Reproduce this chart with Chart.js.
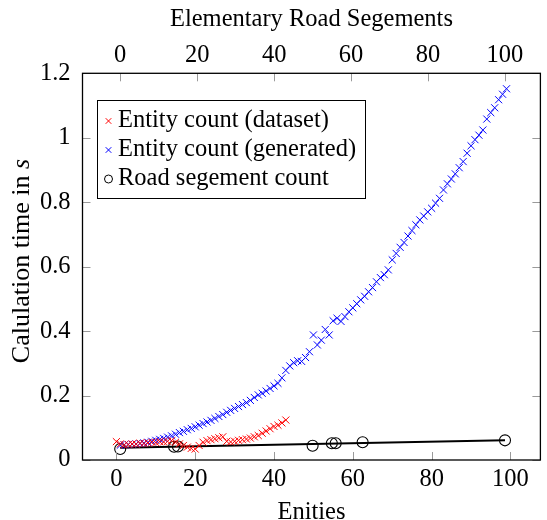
<!DOCTYPE html>
<html><head><meta charset="utf-8">
<script src="https://cdn.jsdelivr.net/npm/chart.js@4.4.1/dist/chart.umd.min.js"></script>
<style>html,body{margin:0;padding:0;background:#fff}#wrap{width:547px;height:520px}</style>
</head><body><div id="wrap"><canvas id="c" width="547" height="520"></canvas></div>
<script>
// ---- data ----
const datasetX = [0,1,2,3,4,5,6,7,8,9,10,11,12,13,14,15,16,17,18,19,20,21,22,23,24,25,26,27,28,29,30,31,32,33,34,35,36,37,38,39,40,41,42,43];
const datasetY = [0.057,0.050,0.047,0.048,0.050,0.049,0.052,0.051,0.053,0.055,0.054,0.057,0.056,0.058,0.060,0.055,0.050,0.045,0.040,0.036,0.034,0.045,0.055,0.060,0.063,0.066,0.069,0.072,0.058,0.056,0.058,0.061,0.063,0.065,0.068,0.072,0.076,0.083,0.090,0.097,0.104,0.108,0.115,0.124];
const generatedX = [1,2,3,4,5,6,7,8,9,10,11,12,13,14,15,16,17,18,19,20,21,22,23,24,25,26,27,28,29,30,31,32,33,34,35,36,37,38,39,40,41,42,43,44,45,46,47,48,49,50,51,52,53,54,55,56,57,58,59,60,61,62,63,64,65,66,67,68,69,70,71,72,73,74,75,76,77,78,79,80,81,82,83,84,85,86,87,88,89,90,91,92,93,94,95,96,97,98,99];
const generatedY = [0.046,0.047,0.048,0.049,0.050,0.051,0.053,0.055,0.058,0.061,0.064,0.067,0.071,0.075,0.080,0.085,0.089,0.094,0.098,0.103,0.108,0.113,0.118,0.123,0.129,0.135,0.141,0.148,0.154,0.160,0.166,0.172,0.178,0.185,0.194,0.202,0.207,0.214,0.222,0.230,0.238,0.255,0.278,0.292,0.302,0.308,0.306,0.318,0.336,0.388,0.357,0.372,0.405,0.388,0.432,0.440,0.430,0.445,0.460,0.472,0.485,0.497,0.508,0.522,0.535,0.553,0.566,0.575,0.590,0.621,0.641,0.660,0.675,0.695,0.712,0.730,0.745,0.757,0.770,0.781,0.797,0.812,0.838,0.857,0.872,0.888,0.907,0.926,0.952,0.975,0.994,1.008,1.024,1.058,1.078,1.093,1.118,1.135,1.152];
const roadX = [0,14,15,50,55,56,63,100];
const roadY = [0.034,0.041,0.042,0.044,0.052,0.052,0.055,0.061];
const fitX = [0,100];
const fitY = [0.038,0.061];
const bottomTicks = [0,20,40,60,80,100];
const topTicks = [0,20,40,60,80,100];
const yTicks = [0,0.2,0.4,0.6,0.8,1,1.2];
const yTickLabels = ['0','0.2','0.4','0.6','0.8','1','1.2'];
const labels = ['Entity count (dataset)','Entity count (generated)','Road segement count'];

const FONT = "'Liberation Serif', 'Times New Roman', serif";
const FS = 24.5;
Chart.defaults.font.family = FONT;
Chart.defaults.font.size = FS;
Chart.defaults.color = '#000';

const pts = (xs, ys) => xs.map((x, i) => ({x, y: ys[i]}));

const decor = {
  id: 'decor',
  afterDatasetsDraw(chart) {
    const {ctx, chartArea: a, scales} = chart;
    ctx.save();
    // inward tick marks
    ctx.strokeStyle = '#9a9a9a'; ctx.lineWidth = 1;
    const L = 8;
    ctx.beginPath();
    scales.x.ticks.forEach(t => { const p = Math.round(scales.x.getPixelForValue(t.value)) + 0.5; ctx.moveTo(p, a.bottom); ctx.lineTo(p, a.bottom - L); });
    scales.x2.ticks.forEach(t => { const p = Math.round(scales.x2.getPixelForValue(t.value)) + 0.5; ctx.moveTo(p, a.top); ctx.lineTo(p, a.top + L); });
    scales.y.ticks.forEach(t => { const p = Math.round(scales.y.getPixelForValue(t.value)) + 0.5; ctx.moveTo(a.left, p); ctx.lineTo(a.left + L, p); ctx.moveTo(a.right, p); ctx.lineTo(a.right - L, p); });
    ctx.stroke();
    // frame
    ctx.strokeStyle = '#000'; ctx.lineWidth = 1.3;
    ctx.strokeRect(a.left, a.top, a.right - a.left, a.bottom - a.top);
    // y title with italic s
    ctx.save();
    const TF = 26;
    ctx.translate(22, 261);
    ctx.rotate(-Math.PI / 2);
    ctx.fillStyle = '#000';
    ctx.textBaseline = 'middle';
    const p1 = 'Calulation time in ', p2 = 's';
    ctx.font = TF + "px " + FONT; const w1 = ctx.measureText(p1).width;
    ctx.font = "italic " + TF + "px " + FONT; const w2 = ctx.measureText(p2).width;
    let sx = -(w1 + w2) / 2;
    ctx.font = TF + "px " + FONT; ctx.textAlign = 'left'; ctx.fillText(p1, sx, 0);
    ctx.font = "italic " + TF + "px " + FONT; ctx.fillText(p2, sx + w1, 0);
    ctx.restore();
    // legend
    const bx = 97.5, by = 100.5, bw = 268, bh = 98;
    ctx.fillStyle = '#fff'; ctx.fillRect(bx, by, bw, bh);
    ctx.strokeStyle = '#000'; ctx.lineWidth = 1; ctx.strokeRect(bx, by, bw, bh);
    const rows = [121, 150, 179];
    const mx = 108.5;
    chart.data.datasets.slice(0, 3).forEach((ds, i) => {
      const y = rows[i];
      ctx.strokeStyle = ds.borderColor; ctx.lineWidth = 1;
      ctx.beginPath();
      if (ds.pointStyle === 'circle') {
        ctx.arc(mx, y, 4, 0, Math.PI * 2);
      } else {
        const d = 2.8;
        ctx.moveTo(mx - d, y - d); ctx.lineTo(mx + d, y + d);
        ctx.moveTo(mx - d, y + d); ctx.lineTo(mx + d, y - d);
      }
      ctx.stroke();
      ctx.fillStyle = '#000'; ctx.font = FS + "px " + FONT;
      ctx.textAlign = 'left'; ctx.textBaseline = 'middle';
      ctx.fillText(ds.label, 118, y);
    });
    ctx.restore();
  }
};

new Chart(document.getElementById('c'), {
  type: 'scatter',
  data: {
    datasets: [
      { label: labels[0], data: pts(datasetX, datasetY), xAxisID: 'x', yAxisID: 'y',
        pointStyle: 'crossRot', pointRadius: 5, borderColor: '#ff0000', backgroundColor: '#ff0000', pointBorderWidth: 1, showLine: false },
      { label: labels[1], data: pts(generatedX, generatedY), xAxisID: 'x', yAxisID: 'y',
        pointStyle: 'crossRot', pointRadius: 5, borderColor: '#0000ff', backgroundColor: '#0000ff', pointBorderWidth: 1, showLine: false },
      { label: labels[2], data: pts(roadX, roadY), xAxisID: 'x2', yAxisID: 'y',
        pointStyle: 'circle', pointRadius: 5.5, borderColor: '#000', backgroundColor: 'rgba(0,0,0,0)', pointBorderWidth: 1.1, showLine: false },
      { label: 'fit', data: pts(fitX, fitY), xAxisID: 'x2', yAxisID: 'y',
        showLine: true, pointRadius: 0, borderColor: '#000', borderWidth: 2, fill: false }
    ]
  },
  options: {
    responsive: false, animation: false, devicePixelRatio: 1,
    layout: { padding: { left: 0, right: 2, top: 0, bottom: 0 } },
    plugins: { legend: { display: false }, tooltip: { enabled: false } },
    scales: {
      x: {
        type: 'linear', position: 'bottom', min: -8.6, max: 107.6,
        grid: { display: false, drawTicks: false }, border: { display: false },
        ticks: { padding: 5, font: { size: FS }, maxRotation: 0 },
        afterBuildTicks: s => { s.ticks = bottomTicks.map(v => ({value: v})); },
        afterFit: s => { s.height = 60; },
        title: { display: true, text: 'Enities', font: { size: FS, lineHeight: 1 }, padding: { top: 0, bottom: -5 } }
      },
      x2: {
        type: 'linear', position: 'top', min: -9.8, max: 109.2,
        grid: { display: false, drawTicks: false }, border: { display: false },
        ticks: { padding: 3, font: { size: FS }, maxRotation: 0 },
        afterBuildTicks: s => { s.ticks = topTicks.map(v => ({value: v})); },
        afterFit: s => { s.height = 73.3; },
        title: { display: true, text: 'Elementary Road Segements', font: { size: FS, lineHeight: 1 }, padding: { top: 7, bottom: 0 } }
      },
      y: {
        type: 'linear', position: 'left', min: 0, max: 1.2,
        grid: { display: false, drawTicks: false }, border: { display: false },
        ticks: { padding: 12, font: { size: FS }, callback: (v, i) => yTickLabels[i] },
        afterBuildTicks: s => { s.ticks = yTicks.map(v => ({value: v})); },
        afterFit: s => { s.width = 82.5; }
      }
    }
  },
  plugins: [decor]
});
</script>
</body></html>
